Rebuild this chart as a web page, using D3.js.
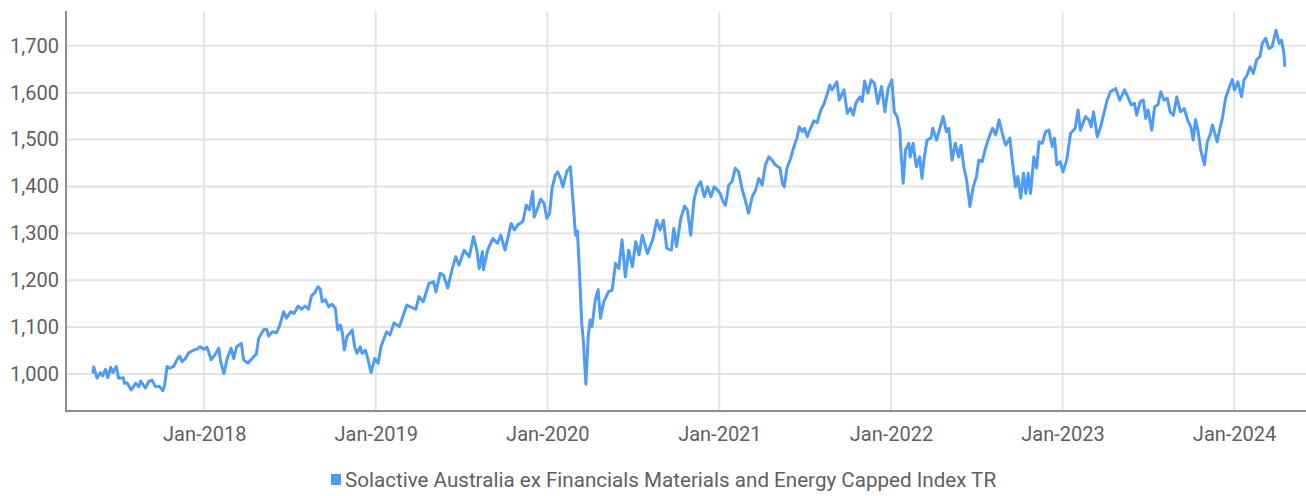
<!DOCTYPE html>
<html>
<head>
<meta charset="utf-8">
<script src="https://cdn.jsdelivr.net/npm/d3@7"></script>
<style>
  body { margin: 0; background: #fff; }
  text { font-family: Roboto, "Noto Sans", sans-serif; fill: #5f5f5f; }
</style>
</head>
<body>
<svg id="chart" width="1306" height="496"></svg>
<script>
const seriesName = "Solactive Australia ex Financials Materials and Energy Capped Index TR";

const yTicks = [1000, 1100, 1200, 1300, 1400, 1500, 1600, 1700];
const xTicks = ["2018-01-01", "2019-01-01", "2020-01-01", "2021-01-01", "2022-01-01", "2023-01-01", "2024-01-01"];

const dates = [
  "2017-05-09","2017-05-11","2017-05-18","2017-05-25","2017-05-30","2017-06-05","2017-06-10","2017-06-16","2017-06-21","2017-06-28",
  "2017-07-03","2017-07-13","2017-07-15","2017-07-21","2017-07-30","2017-08-08","2017-08-15","2017-08-19","2017-08-29","2017-09-05",
  "2017-09-12","2017-09-19","2017-09-27","2017-10-05","2017-10-09","2017-10-14","2017-10-19","2017-10-28","2017-11-04","2017-11-10",
  "2017-11-15","2017-11-22","2017-11-29","2017-12-10","2017-12-17","2017-12-23","2017-12-31","2018-01-07","2018-01-16","2018-01-23",
  "2018-02-01","2018-02-05","2018-02-12","2018-02-19","2018-02-27","2018-03-05","2018-03-11","2018-03-21","2018-03-26","2018-04-04",
  "2018-04-13","2018-04-22","2018-04-27","2018-05-08","2018-05-14","2018-05-18","2018-05-26","2018-06-04","2018-06-11","2018-06-19",
  "2018-06-25","2018-07-04","2018-07-11","2018-07-20","2018-07-27","2018-08-04","2018-08-11","2018-08-17","2018-08-24","2018-08-31",
  "2018-09-05","2018-09-09","2018-09-16","2018-09-23","2018-09-30","2018-10-07","2018-10-12","2018-10-18","2018-10-22","2018-10-26",
  "2018-11-01","2018-11-12","2018-11-17","2018-11-22","2018-11-29","2018-12-03","2018-12-10","2018-12-15","2018-12-22","2018-12-30",
  "2019-01-06","2019-01-12","2019-01-24","2019-01-31","2019-02-09","2019-02-20","2019-03-02","2019-03-08","2019-03-16","2019-03-27",
  "2019-04-03","2019-04-12","2019-04-24","2019-05-04","2019-05-09","2019-05-18","2019-05-25","2019-06-03","2019-06-13","2019-06-20",
  "2019-06-27","2019-07-08","2019-07-19","2019-07-28","2019-08-04","2019-08-09","2019-08-16","2019-08-18","2019-08-27","2019-09-07",
  "2019-09-17","2019-09-24","2019-10-03","2019-10-16","2019-10-23","2019-10-30","2019-11-10","2019-11-17","2019-11-24","2019-12-01",
  "2019-12-04","2019-12-11","2019-12-18","2019-12-25","2019-12-31","2020-01-06","2020-01-11","2020-01-18","2020-01-23","2020-01-29",
  "2020-02-03","2020-02-12","2020-02-19","2020-02-26","2020-03-01","2020-03-05","2020-03-10","2020-03-14","2020-03-18","2020-03-23",
  "2020-03-28","2020-04-01","2020-04-05","2020-04-12","2020-04-18","2020-04-23","2020-04-30","2020-05-10","2020-05-18","2020-05-25",
  "2020-06-01","2020-06-08","2020-06-15","2020-06-22","2020-06-30","2020-07-07","2020-07-14","2020-07-21","2020-08-01","2020-08-12",
  "2020-08-21","2020-08-28","2020-09-04","2020-09-11","2020-09-21","2020-09-26","2020-10-02","2020-10-11","2020-10-19","2020-10-25",
  "2020-11-01","2020-11-08","2020-11-14","2020-11-22","2020-11-30","2020-12-07","2020-12-14","2020-12-21","2020-12-28","2021-01-03",
  "2021-01-09","2021-01-14","2021-01-21","2021-01-28","2021-02-04","2021-02-11","2021-02-18","2021-02-25","2021-03-04","2021-03-12",
  "2021-03-19","2021-03-26","2021-04-02","2021-04-09","2021-04-16","2021-04-23","2021-04-30","2021-05-10","2021-05-15","2021-05-19",
  "2021-05-25","2021-06-01","2021-06-08","2021-06-15","2021-06-20","2021-06-27","2021-07-01","2021-07-07","2021-07-14","2021-07-21",
  "2021-07-28","2021-08-05","2021-08-12","2021-08-19","2021-08-24","2021-08-29","2021-09-08","2021-09-13","2021-09-18","2021-09-23",
  "2021-09-30","2021-10-07","2021-10-13","2021-10-18","2021-10-27","2021-11-01","2021-11-06","2021-11-13","2021-11-20","2021-11-27",
  "2021-12-04","2021-12-12","2021-12-19","2021-12-26","2022-01-03","2022-01-08","2022-01-14","2022-01-20","2022-01-22","2022-01-27",
  "2022-02-01","2022-02-08","2022-02-11","2022-02-17","2022-02-24","2022-03-03","2022-03-08","2022-03-13","2022-03-19","2022-03-27",
  "2022-03-31","2022-04-08","2022-04-12","2022-04-22","2022-04-29","2022-05-04","2022-05-11","2022-05-18","2022-05-25","2022-05-30",
  "2022-06-05","2022-06-11","2022-06-18","2022-06-25","2022-07-02","2022-07-07","2022-07-14","2022-07-21","2022-07-28","2022-08-05",
  "2022-08-12","2022-08-19","2022-08-26","2022-09-02","2022-09-11","2022-09-16","2022-09-23","2022-09-28","2022-10-04","2022-10-10",
  "2022-10-15","2022-10-20","2022-10-25","2022-11-01","2022-11-07","2022-11-12","2022-11-19","2022-11-26","2022-12-03","2022-12-10",
  "2022-12-15","2022-12-20","2022-12-27","2023-01-02","2023-01-10","2023-01-18","2023-01-28","2023-02-03","2023-02-08","2023-02-19",
  "2023-02-26","2023-03-03","2023-03-08","2023-03-16","2023-03-23","2023-03-30","2023-04-06","2023-04-13","2023-04-24","2023-05-03",
  "2023-05-13","2023-05-20","2023-05-27","2023-06-03","2023-06-08","2023-06-15","2023-06-22","2023-06-27","2023-07-02","2023-07-10",
  "2023-07-16","2023-07-23","2023-07-29","2023-08-05","2023-08-12","2023-08-18","2023-08-25","2023-09-01","2023-09-09","2023-09-17",
  "2023-09-24","2023-10-01","2023-10-06","2023-10-11","2023-10-16","2023-10-22","2023-10-30","2023-11-05","2023-11-11","2023-11-16",
  "2023-11-21","2023-11-26","2023-12-02","2023-12-07","2023-12-14","2023-12-21","2023-12-28","2024-01-02","2024-01-09","2024-01-17",
  "2024-01-22","2024-01-29","2024-02-04","2024-02-11","2024-02-18","2024-02-25","2024-03-01","2024-03-08","2024-03-15","2024-03-22",
  "2024-03-30","2024-04-06","2024-04-11","2024-04-16","2024-04-18"
];

const values = [
  1001,1015,991,1003,996,1010,992,1014,1003,1016,
  991,992,980,981,966,980,973,985,970,984,
  987,973,974,964,977,1016,1012,1016,1030,1038,
  1026,1033,1045,1051,1053,1058,1053,1057,1030,1040,
  1055,1026,1001,1033,1055,1033,1058,1065,1030,1023,
  1033,1043,1076,1095,1095,1081,1090,1088,1104,1133,
  1119,1133,1129,1145,1138,1145,1138,1166,1173,1186,
  1181,1154,1158,1143,1149,1140,1094,1104,1087,1051,
  1080,1094,1058,1044,1058,1044,1051,1033,1003,1033,
  1023,1058,1090,1083,1109,1101,1129,1147,1143,1138,
  1165,1154,1193,1197,1175,1215,1211,1183,1225,1250,
  1232,1264,1250,1293,1264,1225,1261,1222,1264,1289,
  1279,1296,1264,1321,1307,1318,1325,1360,1350,1389,
  1335,1353,1373,1364,1332,1343,1396,1424,1431,1417,
  1399,1433,1442,1350,1296,1305,1205,1110,1065,978,
  1080,1115,1101,1158,1180,1119,1154,1175,1179,1236,
  1225,1286,1207,1264,1229,1282,1254,1296,1257,1286,
  1328,1307,1328,1268,1264,1311,1272,1332,1358,1350,
  1296,1371,1396,1410,1378,1399,1378,1399,1392,1385,
  1367,1360,1403,1410,1439,1431,1396,1371,1343,1378,
  1392,1417,1403,1446,1463,1456,1446,1439,1407,1399,
  1440,1458,1483,1503,1527,1517,1524,1506,1524,1540,
  1536,1563,1577,1599,1616,1606,1623,1584,1595,1606,
  1556,1567,1552,1577,1591,1581,1625,1599,1627,1620,
  1577,1613,1559,1609,1627,1559,1549,1520,1478,1407,
  1478,1492,1463,1492,1442,1463,1417,1463,1499,1503,
  1524,1499,1513,1549,1517,1524,1456,1492,1463,1488,
  1442,1414,1357,1399,1421,1456,1453,1481,1503,1524,
  1510,1542,1513,1488,1503,1456,1399,1421,1375,1428,
  1385,1428,1385,1463,1439,1495,1492,1517,1520,1485,
  1503,1446,1453,1431,1456,1513,1524,1563,1520,1549,
  1542,1527,1559,1506,1527,1556,1584,1602,1609,1584,
  1606,1591,1574,1577,1552,1581,1584,1545,1563,1520,
  1570,1574,1602,1584,1588,1559,1552,1591,1559,1566,
  1542,1527,1499,1542,1520,1478,1446,1495,1510,1531,
  1513,1495,1524,1545,1588,1609,1628,1606,1623,1591,
  1627,1638,1655,1641,1670,1677,1705,1716,1694,1698,
  1733,1705,1712,1684,1655
];

const parse = d3.timeParse("%Y-%m-%d");
const points = dates.map((d, i) => ({ date: parse(d), value: values[i] }));

const svg = d3.select("#chart");
const plotLeft = 66, plotRight = 1306, plotTop = 12, plotBottom = 411;

const x = d3.scaleTime()
    .domain([parse("2017-03-13"), parse("2024-06-02")])
    .range([plotLeft, plotRight]);
const y = d3.scaleLinear()
    .domain([921, 1772])
    .range([plotBottom, plotTop]);

const gridColor = "#e3e3e3";
const axisColor = "#8e8e8e";
const lineColor = "#4f9bf8";

// horizontal grid
svg.append("g").selectAll("line")
    .data(yTicks)
    .join("line")
    .attr("x1", plotLeft + 1).attr("x2", plotRight)
    .attr("y1", d => y(d)).attr("y2", d => y(d))
    .attr("stroke", gridColor).attr("stroke-width", 2);

// vertical grid
svg.append("g").selectAll("line")
    .data(xTicks.map(parse))
    .join("line")
    .attr("x1", d => x(d)).attr("x2", d => x(d))
    .attr("y1", plotTop).attr("y2", plotBottom)
    .attr("stroke", gridColor).attr("stroke-width", 2);

// y labels
const yAxis = svg.append("g")
    .attr("transform", `translate(${plotLeft},0)`)
    .call(d3.axisLeft(y).tickValues(yTicks).tickSize(0).tickPadding(7).tickFormat(d3.format(",")));
yAxis.select(".domain").remove();
yAxis.selectAll("text").style("font-size", "20px").attr("fill", "#5f5f5f");

// x labels
const xAxis = svg.append("g")
    .attr("transform", `translate(0,${plotBottom})`)
    .call(d3.axisBottom(x).tickValues(xTicks.map(parse)).tickSize(0).tickPadding(16).tickFormat(d3.timeFormat("%b-%Y")));
xAxis.select(".domain").remove();
xAxis.selectAll("text").style("font-size", "20px").attr("fill", "#5f5f5f");

// axis lines
svg.append("line")
    .attr("x1", plotLeft).attr("x2", plotLeft).attr("y1", plotTop - 1).attr("y2", plotBottom + 1)
    .attr("stroke", axisColor).attr("stroke-width", 2);
svg.append("line")
    .attr("x1", plotLeft).attr("x2", plotRight).attr("y1", plotBottom).attr("y2", plotBottom)
    .attr("stroke", axisColor).attr("stroke-width", 2);

// series
const line = d3.line()
    .x(d => x(d.date))
    .y(d => y(d.value));

svg.append("path")
    .datum(points)
    .attr("d", line)
    .attr("fill", "none")
    .attr("stroke", lineColor)
    .attr("stroke-width", 3)
    .attr("stroke-linejoin", "round");

// legend
const legend = svg.append("g").attr("transform", "translate(331,474)");
legend.append("rect")
    .attr("width", 10).attr("height", 11)
    .attr("fill", lineColor);
legend.append("text")
    .attr("x", 14).attr("y", 12.5)
    .style("font-size", "20.6px")
    .text(seriesName);
</script>
</body>
</html>
